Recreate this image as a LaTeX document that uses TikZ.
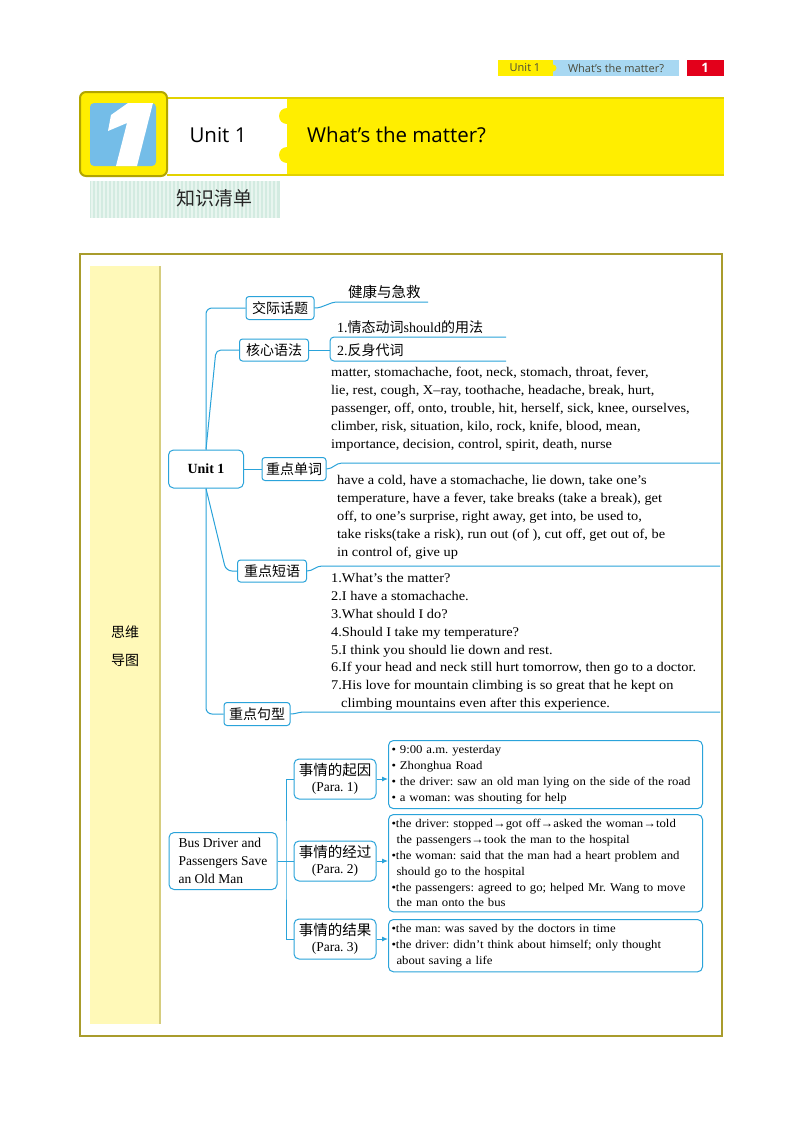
\documentclass[tikz,border=0pt]{standalone}
\usepackage{fontspec}
\setmainfont{Liberation Serif}
\newfontfamily\bodyserif{Liberation Serif}[FakeStretch=1.08]
\newfontfamily\cjk{Noto Sans CJK SC}
\newfontfamily\hdfont{Open Sans}
\usetikzlibrary{arrows.meta,positioning}
\frenchspacing
\definecolor{mapblue}{HTML}{2AA3DA}
\definecolor{frameolive}{HTML}{A99C2C}
\definecolor{stripyellow}{HTML}{FFF9B8}
\definecolor{stripedge}{HTML}{D6CD7E}
\definecolor{bandyellow}{HTML}{FFEE00}
\definecolor{bandedge}{HTML}{E2D200}
\definecolor{tileedge}{HTML}{B2A500}
\definecolor{tileblue}{HTML}{74BDE8}
\definecolor{tagblue}{HTML}{A8D8F2}
\definecolor{tagred}{HTML}{E3001B}
\definecolor{tagtext}{HTML}{4A4A3A}
\definecolor{mint}{HTML}{D3EBE1}
\definecolor{mintstripe}{HTML}{E8F5EF}
\tikzset{
  topic/.style={draw=mapblue,line width=1pt,rounded corners=3pt,inner sep=2pt,minimum height=23pt,font=\cjk\fontsize{14}{14}\selectfont},
  mline/.style={draw=mapblue,line width=1pt},
  body/.style={inner sep=0pt,anchor=north west,align=left,font=\bodyserif\fontsize{13.3}{17.9}\selectfont},
  stage/.style={draw=mapblue,line width=1pt,rounded corners=5pt,minimum width=82pt,minimum height=40pt,inner sep=1pt,align=center,font=\fontsize{13.5}{16}\selectfont},
  detail/.style={draw=mapblue,line width=1pt,rounded corners=5pt,anchor=north west,inner xsep=3pt,inner ysep=5pt,align=left,text width=308pt,font=\bodyserif\fontsize{11.8}{15.8}\selectfont},
  tip/.style={-{Latex[length=6pt,width=5pt]}},
}
\begin{document}
\begin{tikzpicture}[x=1pt,y=-1pt]
\useasboundingbox[fill=white] (0,0) rectangle (800,1125);

% running head
\fill[tagblue] (553,60) rectangle (679,76);
\fill[bandyellow] (498,60) rectangle (553,76);
\fill[bandyellow] (553,68) circle (3.5);
\fill[tagred] (687,60) rectangle (724,76);
\node[font=\hdfont\fontsize{11}{11}\selectfont,text=tagtext] (tagunit) at (525,68) {Unit 1};
\node[font=\hdfont\fontsize{11}{11}\selectfont,text=tagtext] (tagtitle) at (616,68) {What’s the matter?};
\node[font=\hdfont\bfseries\fontsize{13}{13}\selectfont,text=white] (tagnum) at (705,68) {1};

% banner
\fill[white] (167,97) rectangle (724,176);
\fill[bandyellow] (287,97) rectangle (724,176);
\fill[bandyellow] (287,116) circle (8);
\fill[bandyellow] (287,155) circle (8);
\draw[bandedge,line width=2.5pt] (167,98) -- (724,98);
\draw[bandedge,line width=2.5pt] (167,175) -- (724,175);
\draw[fill=bandyellow,draw=tileedge,line width=2pt,rounded corners=6pt] (80,92) rectangle (167,176);
\fill[tileblue,rounded corners=4pt] (90,103) rectangle (156,166);
\fill[white] (128,103) -- (153,103) -- (137,166) -- (116,166) -- (127,123) -- (108,131) -- (111,115) -- cycle;
\node[font=\hdfont\fontsize{20.5}{20.5}\selectfont] (bandunit) at (218,135) {Unit 1};
\node[font=\hdfont\fontsize{20.5}{20.5}\selectfont,anchor=west,inner sep=0pt] (bandtitle) at (307,135) {What’s the matter?};

% knowledge list tab
\fill[mint] (90,181) rectangle (280,218);
\foreach \x in {92,96,...,278}
  \draw[mintstripe,line width=1.5pt] (\x,181) -- (\x,218);
\node[font=\cjk\fontsize{19}{19}\selectfont,text=black!85] (kbtitle) at (214,198) {知识清单};

% frame and side strip
\draw[frameolive,line width=2pt] (80,254) rectangle (722,1036);
\fill[stripyellow] (90,266) rectangle (160,1024);
\draw[stripedge,line width=1.5pt] (160,266) -- (160,1024);
\node[font=\cjk\fontsize{14}{14}\selectfont] (side1) at (125,632) {思维};
\node[font=\cjk\fontsize{14}{14}\selectfont] (side2) at (125,660) {导图};

% mind map: Unit 1
\node[topic,minimum width=75pt,minimum height=38pt,rounded corners=5pt,font=\bfseries\fontsize{14}{14}\selectfont] (unit) at (206,469) {Unit 1};
\node[topic,minimum width=68pt] (jiaoji) at (280,308) {交际话题};
\node[topic,minimum width=69pt,minimum height=22pt] (hexin) at (274,350) {核心语法};
\node[topic,minimum width=64pt] (danci) at (294,469) {重点单词};
\node[topic,minimum width=69pt,minimum height=22pt] (duanyu) at (272,571) {重点短语};
\node[topic,minimum width=66pt] (juxing) at (257,714) {重点句型};

\draw[mline,rounded corners=6pt] (unit.north) |- (jiaoji.west);
\draw[mline,rounded corners=5pt] (unit.north) -- (216,350) -- (hexin.west);
\draw[mline] (unit.east) -- (danci.west);
\draw[mline,rounded corners=6pt] (unit.south) -- (226,571) -- (duanyu.west);
\draw[mline,rounded corners=6pt] (unit.south) |- (juxing.west);

% branch texts
\node[anchor=base west,inner sep=0pt,font=\cjk\fontsize{14.5}{14.5}\selectfont] (health) at (348,297) {健康与急救};
\coordinate (healthend) at (428,302);
\draw[mline] (jiaoji.east) to[out=0,in=180] (338,302) -- (healthend);

\node[anchor=base west,inner sep=0pt,font=\fontsize{14}{14}\selectfont] (gram1) at (337,332) {1.{\cjk 情态动词}should{\cjk 的用法}};
\node[anchor=base west,inner sep=0pt,font=\fontsize{14}{14}\selectfont] (gram2) at (337,355) {2.{\cjk 反身代词}};
\coordinate (gramtop) at (506,337);
\coordinate (grambot) at (506,361);
\draw[mline] (hexin.east) -- (330,350);
\draw[mline,rounded corners=4pt] (gramtop) -- (330,337) -- (330,361) -- (grambot);

\node[body] (words) at (331,367) {matter, stomachache, foot, neck, stomach, throat, fever,\\
lie, rest, cough, X–ray, toothache, headache, break, hurt,\\
passenger, off, onto, trouble, hit, herself, sick, knee, ourselves,\\
climber, risk, situation, kilo, rock, knife, blood, mean,\\
importance, decision, control, spirit, death, nurse};
\coordinate (danciend) at (720,463);
\draw[mline] (danci.east) to[out=0,in=180] (342,463) -- (danciend);

\node[body] (phrases) at (337,475) {have a cold, have a stomachache, lie down, take one’s\\
temperature, have a fever, take breaks (take a break), get\\
off, to one’s surprise, right away, get into, be used to,\\
take risks(take a risk), run out (of ), cut off, get out of, be\\
in control of, give up};
\coordinate (duanyuend) at (720,566);
\draw[mline] (duanyu.east) to[out=0,in=180] (322,566) -- (duanyuend);

\node[body] (sentences) at (331,573) {1.What’s the matter?\\
2.I have a stomachache.\\
3.What should I do?\\
4.Should I take my temperature?\\
5.I think you should lie down and rest.\\
6.If your head and neck still hurt tomorrow, then go to a doctor.\\
7.His love for mountain climbing is so great that he kept on\\
\hspace*{10pt}climbing mountains even after this experience.};
\coordinate (juxingend) at (720,712);
\draw[mline] (juxing.east) to[out=0,in=180] (304,712) -- (juxingend);

% mind map: the story
\node[stage,minimum width=108pt,minimum height=57pt,align=left,font=\fontsize{13.5}{18}\selectfont] (bus) at (223,861) {Bus Driver and\\Passengers Save\\an Old Man};
\node[stage] (qiyin) at (335,779) {{\cjk\fontsize{14.5}{16}\selectfont 事情的起因}\\(Para. 1)};
\node[stage] (jingguo) at (335,861) {{\cjk\fontsize{14.5}{16}\selectfont 事情的经过}\\(Para. 2)};
\node[stage] (jieguo) at (335,939) {{\cjk\fontsize{14.5}{16}\selectfont 事情的结果}\\(Para. 3)};
\coordinate (fork) at (286,861);
\draw[mline] (bus.east) -- (fork);
\draw[mline] (qiyin.west) -| (fork) |- (jieguo.west);
\draw[mline] (fork) -- (jingguo.west);

\node[detail] (cause) at (388,740) {• 9:00 a.m. yesterday\\
• Zhonghua Road\\
• the driver: saw an old man lying on the side of the road\\
• a woman: was shouting for help};
\node[detail] (process) at (388,814) {•the driver: stopped→got off→asked the woman→told\\
\hspace*{5pt}the passengers→took the man to the hospital\\
•the woman: said that the man had a heart problem and\\
\hspace*{5pt}should go to the hospital\\
•the passengers: agreed to go; helped Mr. Wang to move\\
\hspace*{5pt}the man onto the bus};
\node[detail] (result) at (388,919) {•the man: was saved by the doctors in time\\
•the driver: didn’t think about himself; only thought\\
\hspace*{5pt}about saving a life};
\draw[mline,tip] (qiyin.east) -- (qiyin.east -| cause.west);
\draw[mline,tip] (jingguo.east) -- (jingguo.east -| process.west);
\draw[mline,tip] (jieguo.east) -- (jieguo.east -| result.west);
\end{tikzpicture}
\end{document}
